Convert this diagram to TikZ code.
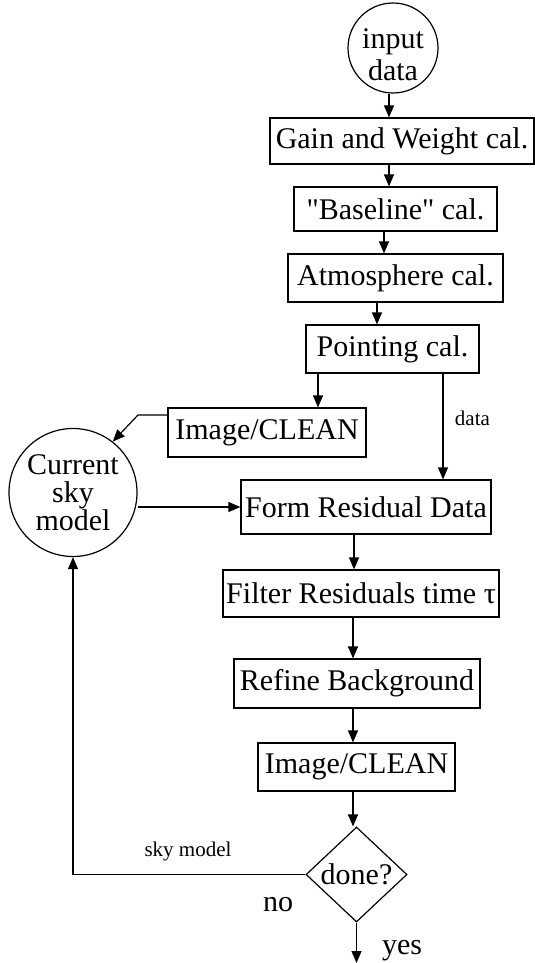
\documentclass[tikz,border=0pt]{standalone}
\usepackage{fontspec}
\setmainfont{Liberation Serif}[Ligatures=TeXOff]
\usetikzlibrary{arrows.meta, positioning, calc, shapes}

\begin{document}
\begin{tikzpicture}[x=1pt,y=-1pt,line width=1.2pt,
  >={Triangle[length=12pt,width=10pt]},
  box/.style={draw,inner sep=0pt,font=\fontsize{30}{29}\selectfont},
  blob/.style={draw,circle,inner sep=0pt,align=center,font=\fontsize{30}{28}\selectfont},
  decide/.style={draw,diamond,inner sep=0pt,minimum width=101pt,minimum height=95pt,font=\fontsize{30}{29}\selectfont},
  lbl/.style={font=\fontsize{21}{22}\selectfont},
  ans/.style={font=\fontsize{30}{29}\selectfont}]
\useasboundingbox (0,0) rectangle (535,963);
% calibration chain
\node[blob,minimum size=90pt,
  label={[align=center,yshift=-7pt,font=\fontsize{30}{32}\selectfont]center:input\\data}] (indata) at (393,48) {};
\node[box,minimum width=264pt,minimum height=46pt] (gain) at (402,141) {Gain and Weight cal.};
\node[box,minimum width=203pt,minimum height=44pt] (base) at (395.5,209) {"Baseline" cal.};
\node[box,minimum width=215pt,minimum height=48pt] (atmos) at (395.5,278) {Atmosphere cal.};
\node[box,minimum width=173pt,minimum height=48pt] (point) at (392.5,349) {Pointing cal.};
% imaging loop
\node[box,minimum width=198pt,minimum height=49pt] (img1) at (267,432.5) {Image/CLEAN};
\node[blob,minimum size=128pt] (sky) at (73,492.5) {Current\\sky\\model};
\node[box,minimum width=250pt,minimum height=54pt] (form) at (366,507) {Form Residual Data};
\node[box,minimum width=276pt,minimum height=47pt] (filt) at (361,593.5) {Filter Residuals time τ};
\node[box,minimum width=246pt,minimum height=49pt] (refine) at (357,683.5) {Refine Background};
\node[box,minimum width=197pt,minimum height=48pt] (img2) at (356.5,767) {Image/CLEAN};
\node[decide] (check) at (356.5,874.5) {done?};
\coordinate (out) at (356.5,963);
\coordinate (bend) at (138,415);

\draw[->] (indata.south -| 389,0) -- (389,0 |- gain.north);
\draw[->] ([xshift=-13pt]gain.south) -- ([xshift=-13pt]gain.south |- base.north);
\draw[->] ([xshift=-11.5pt]base.south) -- ([xshift=-11.5pt]base.south |- atmos.north);
\draw[->] ([xshift=-18.5pt]atmos.south) -- ([xshift=-18.5pt]atmos.south |- point.north);
\draw[->] ([xshift=-74.5pt]point.south) -- ([xshift=-74.5pt]point.south |- img1.north);
\draw[->] ([xshift=50.5pt]point.south) -- ([xshift=50.5pt]point.south |- form.north)
  node[lbl,pos=0.42,right=8pt] {data};
\draw[->] (img1.west |- bend) -- (bend) -- (sky.52);
\draw[->] (sky.east |- form.west) -- (form.west);
\draw[->] ([xshift=-12pt]form.south) -- ([xshift=-12pt]form.south |- filt.north);
\draw[->] ([xshift=-8pt]filt.south) -- ([xshift=-8pt]filt.south |- refine.north);
\draw[->] ([xshift=-4pt]refine.south) -- ([xshift=-4pt]refine.south |- img2.north);
\draw[->] ([xshift=-3.5pt]img2.south) -- ([xshift=-3.5pt]img2.south |- check.north);
\draw[->] (check.west) -| (sky.south);
\draw[->] (check.south) -- (out);
\node[lbl] (skylbl) at (188,851) {sky model};
\node[ans] (nolbl) at (278,905) {no};
\node[ans] (yeslbl) at (402,951) {yes};
\end{tikzpicture}
\end{document}
